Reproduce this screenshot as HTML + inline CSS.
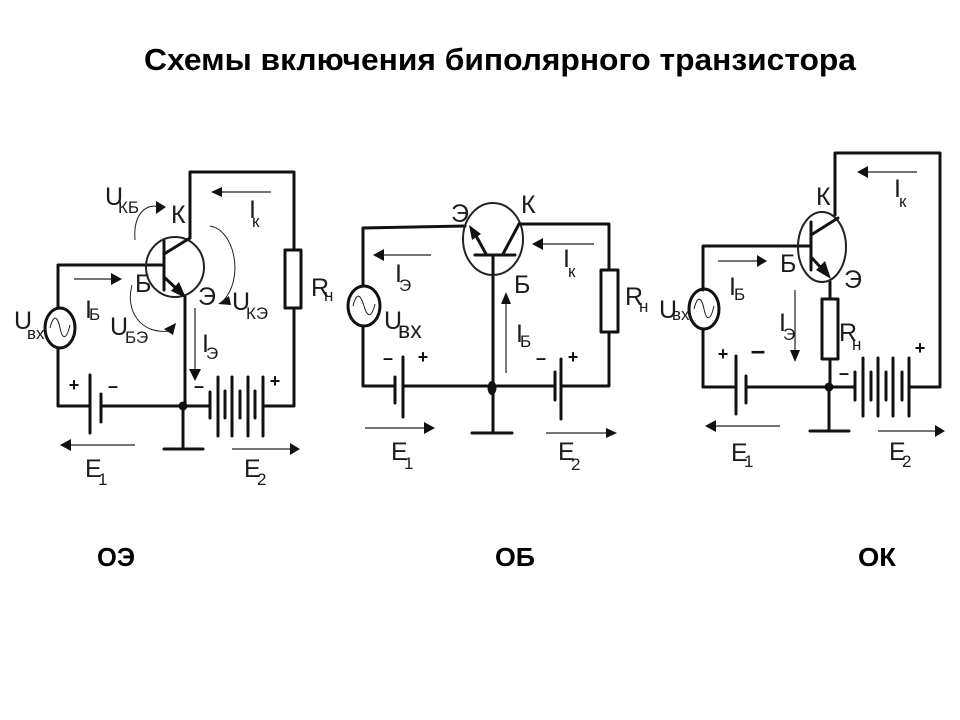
<!DOCTYPE html>
<html><head><meta charset="utf-8"><style>
html,body{margin:0;padding:0;background:#fff;width:960px;height:720px;overflow:hidden}
svg{display:block}
text{font-family:"Liberation Sans",sans-serif;fill:#1c1c1c}
.t{font-size:25px}
.s{font-size:17px}
.b{font-weight:bold;fill:#000}
.w{fill:none;stroke:#111;stroke-width:3;stroke-linecap:round;stroke-linejoin:round}
.c{fill:none;stroke:#222;stroke-width:2}
.th{fill:none;stroke:#222;stroke-width:1}
.a{fill:none;stroke:#222;stroke-width:1.2}
.h{fill:#111;stroke:none}
.pm{font-size:18px;font-weight:bold;fill:#111;text-anchor:middle}
</style></head><body>
<svg width="960" height="720" viewBox="0 0 960 720" xmlns="http://www.w3.org/2000/svg">
<rect width="960" height="720" fill="#fff"/>
<text class="b" x="144" y="70" font-size="31" textLength="712" lengthAdjust="spacingAndGlyphs">Схемы включения биполярного транзистора</text>
<text class="b" x="97" y="566" font-size="26" textLength="38" lengthAdjust="spacingAndGlyphs">ОЭ</text>
<text class="b" x="495" y="566" font-size="26" textLength="40" lengthAdjust="spacingAndGlyphs">ОБ</text>
<text class="b" x="858" y="566" font-size="26" textLength="38" lengthAdjust="spacingAndGlyphs">ОК</text>

<!-- Circuit 1 -->
<path class="w" d="M190 238V172H294V250M294 308V406H263M210 406H101M90 406H58V348M58 308V265H164M185 297V406M183 406V449M164 449H203"/>
<rect class="w" x="285" y="250" width="16" height="58" fill="none"/>
<path class="w" d="M90 375V433M101 394V422M210 392V418M218 377V436M225 391V418M232 377V436M240 391V418M248 377V436M255 391V418M263 377V436"/>
<circle cx="183" cy="406" r="4.5" fill="#111"/>
<ellipse class="c" cx="175" cy="267" rx="29" ry="30"/>
<path class="w" d="M164 241V290M164 254L190 238M164 277L180 292"/>
<path class="h" d="M186 298L171 291L179 282Z"/>
<ellipse class="w" cx="60" cy="328" rx="15" ry="20"/>
<path class="th" d="M50 328C54 312 58 318 60 328C62 338 66 342 70 325"/>
<path class="a" d="M271 192H218M74 279H115M195 308V375M135 445H66M232 449H293"/>
<path class="h" d="M211 192L222 187V197ZM122 279L111 273V285ZM195 381L189 369H201ZM60 445L71 439V451ZM300 449L290 443V455Z"/>
<path class="th" d="M135 240C133 215 145 203 160 207M210 226C235 230 245 280 222 302M132 285C125 310 140 335 170 331"/>
<path class="h" d="M166 207L156 201V214ZM218 304L229 296L231 305ZM176 323L173 335L164 329Z"/>
<text class="t" x="105" y="205">U</text><text class="s" x="118" y="213">КБ</text>
<text class="t" x="171" y="223">К</text>
<text class="t" x="249" y="218">I</text><text class="s" x="252" y="227">к</text>
<text class="t" x="135" y="292">Б</text>
<text class="t" x="198" y="305">Э</text>
<text class="t" x="232" y="310">U</text><text class="s" x="246" y="319">КЭ</text>
<text class="t" x="85" y="318">I</text><text class="s" x="89" y="320">Б</text>
<text class="t" x="110" y="335">U</text><text class="s" x="125" y="343">БЭ</text>
<text class="t" x="202" y="352">I</text><text class="s" x="206" y="359">Э</text>
<text class="t" x="14" y="329">U</text><text class="s" x="27" y="339">вх</text>
<text class="t" x="311" y="296">R</text><text class="s" x="324" y="301">н</text>
<text class="t" x="85" y="477">E</text><text class="s" x="98" y="485">1</text>
<text class="t" x="244" y="477">E</text><text class="s" x="257" y="485">2</text>
<text class="pm" x="74" y="391">+</text><text class="pm" x="113" y="392">–</text>
<text class="pm" x="199" y="392">–</text><text class="pm" x="275" y="387">+</text>

<!-- Circuit 2 -->
<path class="w" d="M465 226L363 228V285M363 327V386H395M403 386H555M561 386H609V332M609 270V224H519M493 255V433M472 433H512"/>
<rect class="w" x="601" y="270" width="17" height="62"/>
<path class="w" d="M395 377V403M403 357V417M555 372V400M561 359V419"/>
<ellipse cx="492" cy="388" rx="4.5" ry="7" fill="#111"/>
<ellipse class="c" cx="493" cy="239" rx="30" ry="36"/>
<path class="w" d="M475 255H515M486 254L474 232M503 254L519 224"/>
<path class="h" d="M469 225L481 234L472 240Z"/>
<ellipse class="w" cx="364" cy="306" rx="16" ry="20"/>
<path class="th" d="M353 306C357 290 361 296 364 306C367 316 371 320 375 304"/>
<path class="a" d="M431 255H380M594 244H538M506 373V298M365 428H427M546 433H609"/>
<path class="h" d="M373 255L384 249V261ZM532 244L543 238V250ZM506 292L501 304H511ZM435 428L424 422V434ZM617 433L606 428V438Z"/>
<text class="t" x="451" y="222">Э</text>
<text class="t" x="521" y="213">К</text>
<text class="t" x="514" y="293">Б</text>
<text class="t" x="563" y="267">I</text><text class="s" x="568" y="277">к</text>
<text class="t" x="395" y="282">I</text><text class="s" x="399" y="291">Э</text>
<text class="t" x="625" y="305">R</text><text class="s" x="639" y="312">н</text>
<text class="t" x="384" y="329">U</text><text class="s" x="398" y="338" style="font-size:23px">вх</text>
<text class="t" x="516" y="342">I</text><text class="s" x="520" y="347">Б</text>
<text class="t" x="391" y="460">E</text><text class="s" x="404" y="469">1</text>
<text class="t" x="558" y="460">E</text><text class="s" x="571" y="470">2</text>
<text class="pm" x="388" y="364">–</text><text class="pm" x="423" y="363">+</text>
<text class="pm" x="541" y="364">–</text><text class="pm" x="573" y="363">+</text>

<!-- Circuit 3 -->
<path class="w" d="M835 215V153H940V387H909M855 387H746M736 387H703V329M703 290V246H811M830 282V299M830 359V387M829 387V431M810 431H849"/>
<rect class="w" x="822" y="299" width="16" height="60"/>
<path class="w" d="M736 356V414M746 376V403M855 372V400M863 358V416M871 372V400M878 358V416M886 372V400M893 358V416M902 372V400M909 358V416"/>
<circle cx="829" cy="387" r="4.5" fill="#111"/>
<ellipse class="c" cx="822" cy="247" rx="24" ry="35"/>
<path class="w" d="M811 222V270M811 235L838 218M811 257L825 272"/>
<path class="h" d="M831 279L816 270L825 261Z"/>
<ellipse class="w" cx="704" cy="309" rx="15" ry="20"/>
<path class="th" d="M694 309C698 293 702 299 704 309C706 319 710 323 714 306"/>
<path class="a" d="M917 172H864M718 261H761M795 290V356M780 426H712M878 431H938"/>
<path class="h" d="M857 172L868 166V178ZM767 261L757 255V267ZM795 362L790 350H800ZM705 426L716 420V432ZM945 431L935 425V437Z"/>
<text class="pm" x="758" y="359" style="font-size:26px">–</text>
<text class="pm" x="844" y="379">–</text>
<text class="t" x="816" y="205">К</text>
<text class="t" x="894" y="197">I</text><text class="s" x="899" y="207">к</text>
<text class="t" x="780" y="272">Б</text>
<text class="t" x="844" y="288">Э</text>
<text class="t" x="729" y="295">I</text><text class="s" x="734" y="300">Б</text>
<text class="t" x="779" y="331">I</text><text class="s" x="783" y="340">Э</text>
<text class="t" x="839" y="341">R</text><text class="s" x="852" y="350">н</text>
<text class="t" x="659" y="318">U</text><text class="s" x="672" y="320">вх</text>
<text class="t" x="731" y="461">E</text><text class="s" x="744" y="467">1</text>
<text class="t" x="889" y="460">E</text><text class="s" x="902" y="467">2</text>
<text class="pm" x="723" y="360">+</text><text class="pm" x="920" y="354">+</text>
</svg>
</body></html>
